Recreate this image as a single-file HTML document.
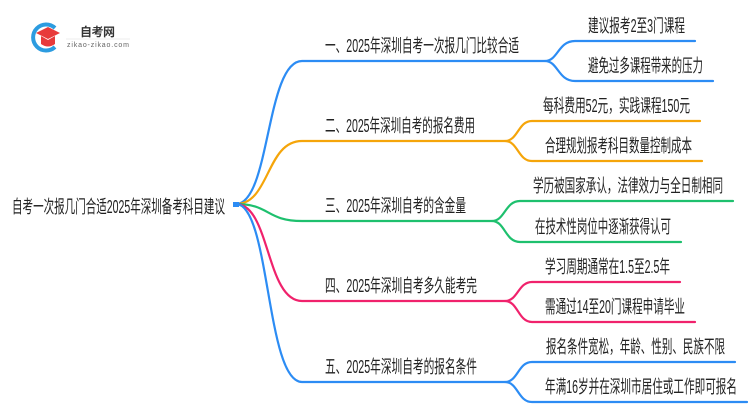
<!DOCTYPE html>
<html><head><meta charset="utf-8"><style>
html,body{margin:0;padding:0;background:#fff;width:750px;height:410px;overflow:hidden}
svg text{font-family:"Liberation Sans","Noto Sans CJK SC",sans-serif;fill:#222;font-size:18px}
</style></head><body>
<svg width="750" height="410" viewBox="0 0 750 410" xmlns="http://www.w3.org/2000/svg">
<g fill="none" stroke-width="2.2" stroke-linecap="round">
<path d="M236,204 C270,204 266,61 302,61 L545,61" stroke="#2c8cf4"/>
<path d="M236,204 C270,204 266,141 302,141 L505,141" stroke="#f5a50a"/>
<path d="M236,204 C270,204 266,221 302,221 L492,221" stroke="#1ec06e"/>
<path d="M236,204 C270,204 266,301 302,301 L505,301" stroke="#f0226c"/>
<path d="M236,204 C270,204 266,382 302,382 L505,382" stroke="#2c8cf4"/>
<path d="M545,61 C558,61 558,41 575,41 L695,41 M545,61 C558,61 558,81 575,81 L713,81" stroke="#2c8cf4"/>
<path d="M505,141 C518,141 518,121 532,121 L700,121 M505,141 C518,141 518,161 532,161 L702,161" stroke="#f5a50a"/>
<path d="M492,221 C505,221 505,201 520,201 L733,201 M492,221 C505,221 505,242 520,242 L681,242" stroke="#1ec06e"/>
<path d="M505,301 C518,301 518,282 532,282 L680,282 M505,301 C518,301 518,322 532,322 L695,322" stroke="#f0226c"/>
<path d="M505,382 C518,382 518,362 532,362 L735,362 M505,382 C518,382 518,402 532,402 L747,402" stroke="#2c8cf4"/>
</g>
<rect x="233" y="202" width="6" height="5" fill="#2c8cf4"/>
<path d="M55,28 A13,13 0 1 0 55,47" fill="none" stroke="#2c9ce0" stroke-width="4"/>
<path d="M36,33 L48,27 L60,33 L48,39 Z" fill="#e83a3a"/>
<path d="M41,36 L41,44 Q48,49 55,44 L55,36 L48,40 Z" fill="#e83a3a"/>
<text x="80" y="36" style="font-size:12px;font-weight:bold;fill:#333" textLength="35">自考网</text>
<line x1="66" y1="39" x2="130" y2="39" stroke="#ddd" stroke-width="0.6"/>
<text x="67" y="47" style="font-size:7px;fill:#666" textLength="62">zikao-zikao.com</text>
<text x="12" y="213" textLength="213" lengthAdjust="spacingAndGlyphs">自考一次报几门合适2025年深圳备考科目建议</text>
<text x="325" y="52" textLength="194" lengthAdjust="spacingAndGlyphs">一、2025年深圳自考一次报几门比较合适</text>
<text x="325" y="132" textLength="150" lengthAdjust="spacingAndGlyphs">二、2025年深圳自考的报名费用</text>
<text x="325" y="212" textLength="141" lengthAdjust="spacingAndGlyphs">三、2025年深圳自考的含金量</text>
<text x="325" y="292" textLength="152" lengthAdjust="spacingAndGlyphs">四、2025年深圳自考多久能考完</text>
<text x="325" y="373" textLength="152" lengthAdjust="spacingAndGlyphs">五、2025年深圳自考的报名条件</text>
<text x="588" y="32" textLength="97" lengthAdjust="spacingAndGlyphs">建议报考2至3门课程</text>
<text x="588" y="72" textLength="115" lengthAdjust="spacingAndGlyphs">避免过多课程带来的压力</text>
<text x="543" y="112" textLength="147" lengthAdjust="spacingAndGlyphs">每科费用52元，实践课程150元</text>
<text x="545" y="152" textLength="147" lengthAdjust="spacingAndGlyphs">合理规划报考科目数量控制成本</text>
<text x="533" y="192" textLength="190" lengthAdjust="spacingAndGlyphs">学历被国家承认，法律效力与全日制相同</text>
<text x="535" y="233" textLength="136" lengthAdjust="spacingAndGlyphs">在技术性岗位中逐渐获得认可</text>
<text x="545" y="273" textLength="125" lengthAdjust="spacingAndGlyphs">学习周期通常在1.5至2.5年</text>
<text x="545" y="313" textLength="140" lengthAdjust="spacingAndGlyphs">需通过14至20门课程申请毕业</text>
<text x="546" y="353" textLength="179" lengthAdjust="spacingAndGlyphs">报名条件宽松，年龄、性别、民族不限</text>
<text x="545" y="393" textLength="192" lengthAdjust="spacingAndGlyphs">年满16岁并在深圳市居住或工作即可报名</text>
</svg>
</body></html>
